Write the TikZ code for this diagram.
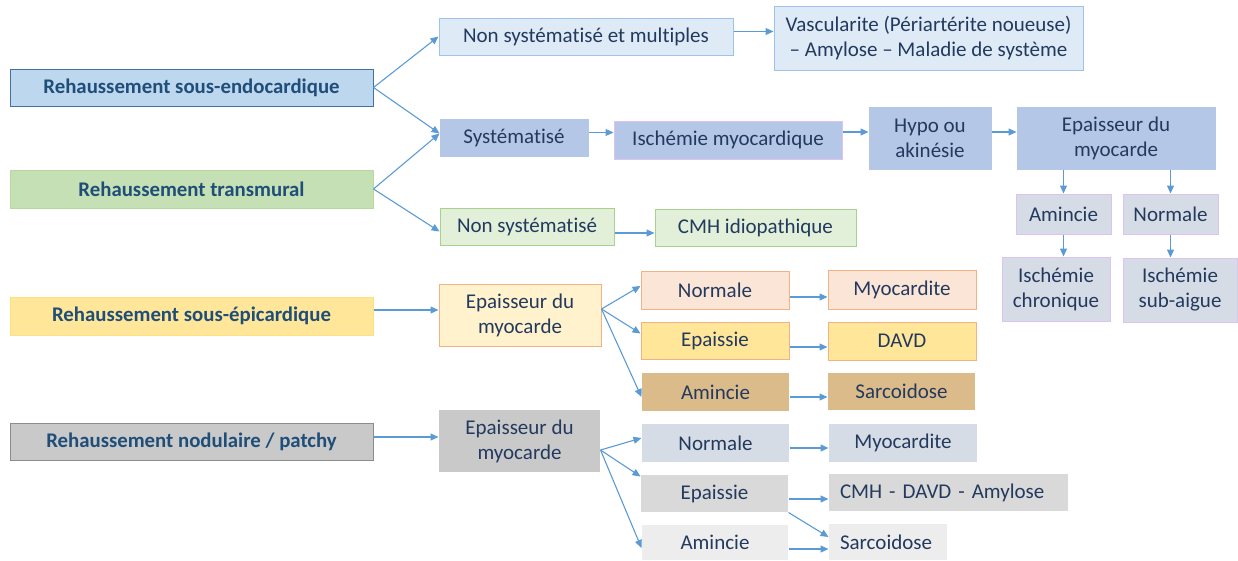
\documentclass[tikz,border=0pt]{standalone}
\usepackage{fontspec}
\setmainfont{Carlito}[Ligatures=NoCommon]
\usepackage{xcolor}
\usepackage{tikz}
\usetikzlibrary{arrows.meta}

\definecolor{ink}{HTML}{233A5E}
\definecolor{inkB}{HTML}{1F4E79}
\definecolor{arrowblue}{HTML}{5B9BD5}
\definecolor{lavender}{HTML}{DDC3F2}
\definecolor{endoFill}{HTML}{BDD7EE}
\definecolor{endoLine}{HTML}{41719C}
\definecolor{transFill}{HTML}{C5E0B4}
\definecolor{transLine}{HTML}{B5D99C}
\definecolor{epiFill}{HTML}{FFE699}
\definecolor{epiLine}{HTML}{FFE07F}
\definecolor{nodFill}{HTML}{C9C9C9}
\definecolor{nodLine}{HTML}{8C8C8C}
\definecolor{paleFill}{HTML}{DEEBF7}
\definecolor{paleLine}{HTML}{9DC3E6}
\definecolor{midFill}{HTML}{B4C7E7}
\definecolor{slateFill}{HTML}{D6DCE5}
\definecolor{greenFill}{HTML}{E2F0D9}
\definecolor{greenLine}{HTML}{A9D18E}
\definecolor{creamFill}{HTML}{FFF2CC}
\definecolor{orangeLine}{HTML}{F4B183}
\definecolor{peachFill}{HTML}{FBE5D6}
\definecolor{tanFill}{HTML}{DBBB8A}
\definecolor{silverFill}{HTML}{D9D9D9}
\definecolor{lightFill}{HTML}{EDEDED}

\begin{document}
\begin{tikzpicture}[x=1pt,y=-1pt,
    box/.style={inner sep=0pt,align=center,text=ink,line width=1pt,
        font=\fontsize{21}{25}\selectfont},
    head/.style={box,minimum width=363pt,minimum height=37pt,text=inkB,
        font=\bfseries\fontsize{20.8}{25}\selectfont},
    arr/.style={draw=arrowblue,line width=1.1pt,-{Triangle[length=8pt,width=7pt]}},
    boxEndo/.style={head,fill=endoFill,draw=endoLine},
    boxTrans/.style={head,fill=transFill,draw=transLine},
    boxEpi/.style={head,fill=epiFill,draw=epiLine},
    boxNod/.style={head,fill=nodFill,draw=nodLine},
    boxPale/.style={box,fill=paleFill,draw=paleLine},
    boxMid/.style={box,fill=midFill,draw=midFill},
    boxLav/.style={box,fill=slateFill,draw=lavender},
    boxGreen/.style={box,fill=greenFill,draw=greenLine},
    boxCream/.style={box,fill=creamFill,draw=orangeLine},
    boxPeach/.style={box,fill=peachFill,draw=orangeLine},
    boxGold/.style={box,fill=epiFill,draw=orangeLine},
    boxTan/.style={box,fill=tanFill},
    boxGrey/.style={box,fill=nodFill},
    boxSlate/.style={box,fill=slateFill},
    boxSilver/.style={box,fill=silverFill},
    boxLight/.style={box,fill=lightFill}]
    \useasboundingbox (0,0) rectangle (1238,560);

    % left column
    \node [boxEndo] (sousendo) at (191.5,87.5) {Rehaussement sous-endocardique};
    \node [boxTrans,minimum height=38pt] (transmural) at (191.5,189) {Rehaussement transmural};
    \node [boxEpi,minimum height=38pt] (sousepi) at (191.5,316) {Rehaussement sous-épicardique};
    \node [boxNod] (nodulaire) at (191.5,441.5) {Rehaussement nodulaire / patchy};

    % sous-endocardique / transmural
    \node [boxPale,minimum width=294pt,minimum height=37pt] (multiples) at (586,36.5) {Non systématisé et multiples};
    \node [boxPale,minimum width=309pt,minimum height=64pt] (vascu) at (928.5,38) {Vascularite (Périartérite noueuse)\\ – Amylose – Maladie de système};
    \node [boxMid,minimum width=148pt,minimum height=37pt] (syst) at (514,137.5) {Systématisé};
    \node [boxMid,draw=lavender,minimum width=228pt,minimum height=38pt] (ischemie) at (728,140) {Ischémie myocardique};
    \node [boxMid,minimum width=122pt,minimum height=62pt] (hypo) at (930,138) {Hypo ou\\ akinésie};
    \node [boxMid,minimum width=198pt,minimum height=62pt] (epaisT) at (1116,138) {Epaisseur du\\ myocarde};
    \node [boxLav,minimum width=95pt,minimum height=40pt] (aminT) at (1063.5,214) {Amincie};
    \node [boxLav,minimum width=95pt,minimum height=40pt] (normT) at (1170.5,214) {Normale};
    \node [boxLav,minimum width=108pt,minimum height=64pt] (ischChron) at (1056,289) {Ischémie\\ chronique};
    \node [boxLav,minimum width=114pt,minimum height=64pt] (ischSub) at (1180,290) {Ischémie\\ sub-aigue};
    \node [boxGreen,minimum width=174pt,minimum height=37pt] (nonsyst) at (527,226.5) {Non systématisé};
    \node [boxGreen,minimum width=201pt,minimum height=37pt] (cmhIdio) at (755.5,227.5) {CMH idiopathique};

    % sous-epicardique
    \node [boxCream,minimum width=162pt,minimum height=62pt] (epaisJ) at (520,315) {Epaisseur du\\ myocarde};
    \node [boxPeach,minimum width=148pt,minimum height=38pt] (normJ) at (715,290) {Normale};
    \node [boxPeach,minimum width=148pt,minimum height=39pt] (myoJ) at (902,290) {Myocardite};
    \node [boxGold,minimum width=148pt,minimum height=37pt] (epaiJ) at (715,340.5) {Epaissie};
    \node [boxGold,minimum width=148pt,minimum height=38pt] (davdJ) at (902,341) {DAVD};
    \node [boxTan,minimum width=147pt,minimum height=38pt] (aminJ) at (715.5,392) {Amincie};
    \node [boxTan,minimum width=147pt,minimum height=37pt] (sarcoJ) at (901.5,391.5) {Sarcoidose};

    % nodulaire / patchy
    \node [boxGrey,minimum width=161pt,minimum height=62pt] (epaisG) at (519.5,441) {Epaisseur du\\ myocarde};
    \node [boxSlate,minimum width=147pt,minimum height=38pt] (normG) at (715.5,443) {Normale};
    \node [boxSlate,minimum width=148pt,minimum height=38pt] (myoG) at (903,443) {Myocardite};
    \node [boxSilver,minimum width=147pt,minimum height=37pt] (epaiG) at (714.5,493.5) {Epaissie};
    \node [boxSilver,inner xsep=11pt,text width=217pt,align=left,minimum height=37pt] (cmhG) at (948.5,492.5) {CMH - DAVD - Amylose};
    \node [boxLight,minimum width=146pt,minimum height=35pt] (aminG) at (715,542.5) {Amincie};
    \node [boxLight,inner xsep=11pt,text width=96pt,align=left,minimum height=36pt] (sarcoG) at (888,542) {Sarcoidose};

    % connectors
    \draw[arr] (sousendo.east) -- (multiples.west);
    \draw[arr] (sousendo.east) -- ([yshift=4pt]syst.west);
    \draw[arr] (transmural.east) -- ([yshift=4pt]syst.west);
    \draw[arr] (transmural.east) -- ([yshift=-5pt]nonsyst.west);
    \draw[arr] ([yshift=5pt]multiples.east) -- ([yshift=5pt]multiples.east -| vascu.west);
    \draw[arr] ([yshift=5pt]syst.east) -- ([yshift=5pt]syst.east -| ischemie.west);
    \draw[arr] ([yshift=8pt]ischemie.east) -- ([yshift=8pt]ischemie.east -| hypo.west);
    \draw[arr] ([yshift=6pt]hypo.east) -- ([yshift=6pt]hypo.east -| epaisT.west);
    \draw[arr] (epaisT.south -| aminT.north) -- (aminT.north);
    \draw[arr] (epaisT.south -| normT.north) -- (normT.north);
    \draw[arr] (aminT.south) -- (aminT.south |- ischChron.north);
    \draw[arr] (normT.south) -- (normT.south |- ischSub.north);
    \draw[arr] ([yshift=-6.5pt]nonsyst.east) -- ([yshift=-6.5pt]nonsyst.east -| cmhIdio.west);

    \draw[arr] ([yshift=6pt]sousepi.east) -- ([yshift=6pt]sousepi.east -| epaisJ.west);
    \draw[arr] ([yshift=6pt]epaisJ.east) -- ([yshift=4pt]normJ.west);
    \draw[arr] ([yshift=6pt]epaisJ.east) -- ([yshift=7pt]epaiJ.west);
    \draw[arr] ([yshift=6pt]epaisJ.east) -- ([yshift=-5pt]aminJ.west);
    \draw[arr] ([yshift=-7pt]normJ.east) -- ([yshift=-7pt]normJ.east -| myoJ.west);
    \draw[arr] ([yshift=-6.5pt]epaiJ.east) -- ([yshift=-6.5pt]epaiJ.east -| davdJ.west);
    \draw[arr] ([yshift=-5pt]aminJ.east) -- ([yshift=-5pt]aminJ.east -| sarcoJ.west);

    \draw[arr] ([yshift=4.5pt]nodulaire.east) -- ([yshift=4.5pt]nodulaire.east -| epaisG.west);
    \draw[arr] ([yshift=-9pt]epaisG.east) -- ([yshift=5pt]normG.west);
    \draw[arr] ([yshift=-9pt]epaisG.east) -- ([yshift=-2pt]epaiG.north west);
    \draw[arr] ([yshift=-9pt]epaisG.east) -- ([yshift=-5.5pt]aminG.west);
    \draw[arr] ([yshift=-5pt]normG.east) -- ([yshift=-5pt]normG.east -| myoG.west);
    \draw[arr] ([yshift=-5.5pt]epaiG.east) -- ([yshift=-5.5pt]epaiG.east -| cmhG.west);
    \draw[arr] (epaiG.south east) -- ([yshift=5pt]sarcoG.west);
    \draw[arr] ([yshift=-6.5pt]aminG.east) -- ([yshift=-6.5pt]aminG.east -| sarcoG.west);
\end{tikzpicture}
\end{document}
